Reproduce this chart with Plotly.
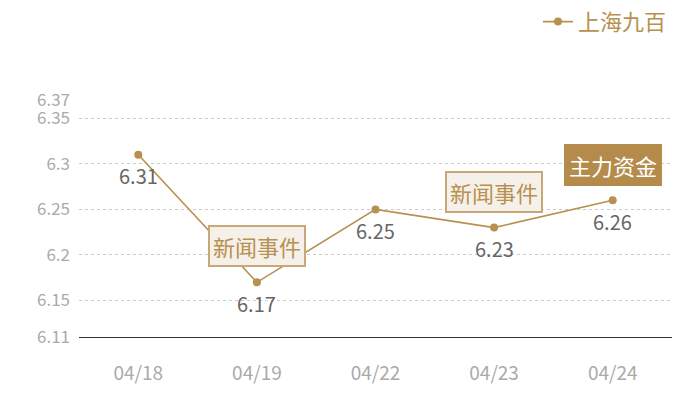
import plotly.graph_objects as go

dates = ['04/18', '04/19', '04/22', '04/23', '04/24']
prices = [6.31, 6.17, 6.25, 6.23, 6.26]
y_ticks = [6.11, 6.15, 6.2, 6.25, 6.3, 6.35, 6.37]
y_tick_text = ['6.11', '6.15', '6.2', '6.25', '6.3', '6.35', '6.37']
events = [('04/19', 6.17, '新闻事件', 'news'), ('04/23', 6.23, '新闻事件', 'news'), ('04/24', 6.26, '主力资金', 'fund')]

gold = '#b8904f'
font = 'Noto Sans CJK SC, Microsoft YaHei, sans-serif'

fig = go.Figure()
fig.add_trace(go.Scatter(
    x=dates, y=prices, name='上海九百', mode='lines+markers',
    line=dict(color=gold, width=1.6), marker=dict(color=gold, size=8),
))

# value labels under each point
for d, p in zip(dates, prices):
    fig.add_annotation(x=d, y=p, text=f'{p:.2f}', showarrow=False, yshift=-21,
                       font=dict(size=20, color='#666666', family=font))

for d, v, label, kind in events:
    if kind == 'news':
        fig.add_annotation(x=d, y=v, text=label, showarrow=False, yshift=36,
                           font=dict(size=22, color='#b8904f', family=font),
                           bgcolor='#f5f0ea', bordercolor='#c9a877', borderwidth=2, borderpad=3)
    else:
        fig.add_annotation(x=d, y=v, text=label, showarrow=False, yshift=35,
                           font=dict(size=22, color='white', family=font),
                           bgcolor='#b58b4c', bordercolor='#b58b4c', borderwidth=2, borderpad=3)

# page body adds an 8px offset, so margins are trimmed to match
fig.update_layout(
    width=700, height=400, template='plotly_white',
    plot_bgcolor='white', paper_bgcolor='white',
    margin=dict(l=71, r=36, t=92, b=71, autoexpand=False),
    font=dict(family=font, color='#aaaaaa'),
    showlegend=True,
    legend=dict(x=1.0, xanchor='right', y=1.33, yanchor='middle',
                font=dict(size=22, color=gold, family=font), itemwidth=30, bgcolor='rgba(0,0,0,0)'),
)
fig.update_xaxes(showgrid=False, showline=True, linecolor='#333333', linewidth=1.2,
                 tickfont=dict(size=19, color='#aaaaaa'), ticks='', ticklabelstandoff=19,
                 range=[-0.5, 4.5])
fig.update_yaxes(range=[6.11, 6.37], tickvals=y_ticks, ticktext=y_tick_text,
                 showgrid=True, gridcolor='#cccccc', griddash='dot', gridwidth=1,
                 zeroline=False, showline=False, ticks='', ticklabelstandoff=8,
                 tickfont=dict(size=17, color='#aaaaaa'))

fig.write_html('out.html')
